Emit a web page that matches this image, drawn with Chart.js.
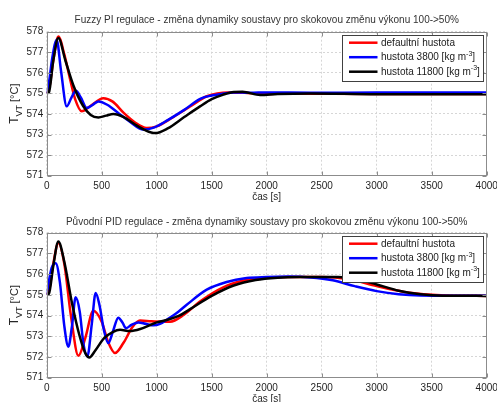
<!DOCTYPE html>
<html>
<head>
<meta charset="utf-8">
<script src="https://cdn.jsdelivr.net/npm/chart.js@4/dist/chart.umd.min.js"></script>
<style>
  html, body { margin: 0; padding: 0; background: #fff; }
  #wrap { position: relative; width: 497px; height: 402px; overflow: hidden; }
  .panel { position: absolute; left: 0; width: 497px; }
</style>
</head>
<body>
<div id="wrap">
  <div class="panel" style="top:0;height:206px"><canvas id="fuzzy" width="497" height="206"></canvas></div>
  <div class="panel" style="top:206px;height:196px"><canvas id="pid" width="497" height="196"></canvas></div>
</div>
<script>
// Axis ticks
const xTicks = [0, 500, 1000, 1500, 2000, 2500, 3000, 3500, 4000];
const yTicks = [571, 572, 573, 574, 575, 576, 577, 578];

// Series names
const seriesNames = ['defaultní hustota', 'hustota 3800 [kg m', 'hustota 11800 [kg m'];

// Fuzzy PI regulace: time [s] and T_VT [°C]
const fuzzyDefaultT = [0, 25, 60, 106, 160, 212, 260, 318, 400, 515, 600, 700, 800, 909, 1000, 1150, 1300, 1450, 1550, 1650, 1800, 1950, 2200, 2600, 3000, 4000];
const fuzzyDefaultV = [575, 575.3, 576.6, 577.77, 576.9, 575.7, 574.7, 574.13, 574.4, 574.77, 574.6, 574.05, 573.6, 573.32, 573.4, 573.85, 574.35, 574.85, 575.0, 575.05, 575.03, 574.97, 575.0, 574.98, 574.97, 574.97];

const fuzzy3800T = [0, 20, 50, 91, 130, 182, 225, 266, 310, 364, 420, 470, 550, 650, 750, 879, 980, 1100, 1250, 1400, 1500, 1600, 1700, 1850, 2000, 2400, 3000, 4000];
const fuzzy3800V = [575, 575.5, 576.7, 577.6, 576.1, 574.37, 574.8, 575.13, 574.8, 574.29, 574.45, 574.61, 574.45, 574.05, 573.65, 573.24, 573.35, 573.7, 574.2, 574.75, 574.9, 574.98, 575.05, 575.03, 575.05, 575.03, 575.04, 575.04];

const fuzzy11800T = [0, 20, 60, 106, 170, 242, 330, 400, 470, 540, 606, 700, 800, 900, 985, 1100, 1250, 1394, 1500, 1600, 1700, 1780, 1940, 2100, 2400, 3000, 4000];
const fuzzy11800V = [575, 575.05, 576.6, 577.69, 576.6, 575.4, 574.4, 573.95, 573.83, 573.92, 574.0, 573.85, 573.5, 573.2, 573.07, 573.3, 573.85, 574.37, 574.72, 574.93, 575.07, 575.08, 574.92, 574.97, 575.0, 574.96, 574.96];

// Původní PID regulace: time [s] and T_VT [°C]
const pidDefaultT = [0, 25, 60, 106, 160, 220, 288, 350, 424, 500, 560, 621, 700, 780, 848, 950, 1050, 1121, 1250, 1400, 1600, 1800, 2000, 2200, 2500, 2750, 3000, 3250, 3500, 3700, 4000];
const pidDefaultV = [575, 575.3, 576.5, 577.5, 576.5, 574.0, 572.06, 572.9, 574.23, 573.7, 572.7, 572.19, 572.7, 573.45, 573.76, 573.72, 573.7, 573.7, 574.05, 574.7, 575.35, 575.7, 575.83, 575.86, 575.86, 575.75, 575.42, 575.14, 575.0, 574.96, 574.95];

const pid3800T = [0, 15, 45, 82, 120, 160, 197, 230, 263, 300, 335, 370, 410, 445, 480, 520, 560, 600, 651, 690, 721, 770, 833, 900, 970, 1030, 1091, 1200, 1273, 1455, 1636, 1818, 2000, 2200, 2400, 2600, 2800, 3000, 3200, 3400, 3700, 4000];
const pid3800V = [575, 575.5, 576.3, 576.53, 575.6, 573.5, 572.5, 573.5, 574.88, 574.2, 572.6, 572.03, 573.6, 575.09, 574.5, 573.3, 572.67, 573.2, 573.9, 573.65, 573.39, 573.55, 573.67, 573.6, 573.53, 573.6, 573.8, 574.2, 574.52, 575.25, 575.62, 575.81, 575.86, 575.88, 575.84, 575.7, 575.42, 575.18, 575.03, 574.97, 574.96, 574.96];

const pid11800T = [0, 20, 60, 106, 160, 230, 300, 350, 388, 440, 520, 600, 667, 755, 850, 1000, 1100, 1200, 1300, 1500, 1700, 1900, 2100, 2300, 2650, 2800, 3000, 3200, 3400, 3600, 4000];
const pid11800V = [575, 575.05, 576.4, 577.58, 576.6, 574.6, 573.0, 572.2, 571.98, 572.3, 572.9, 573.2, 573.31, 573.25, 573.35, 573.67, 573.8, 573.98, 574.3, 574.95, 575.45, 575.72, 575.83, 575.86, 575.86, 575.78, 575.5, 575.2, 575.03, 574.96, 574.95];

const colors = ['#ff0000', '#0000ff', '#000000'];
const FONT = "'Liberation Sans', Arial, sans-serif";

// Frame, inward tick marks, titles, axis labels and legend in MATLAB style
const matlabDecor = {
  id: 'matlabDecor',
  afterDraw(chart, args, opts) {
    const ctx = chart.ctx;
    const a = chart.chartArea;
    const xs = chart.scales.x, ys = chart.scales.y;
    const L = Math.round(a.left) + 0.5, R = Math.round(a.right) - 0.5;
    const T = Math.round(a.top) + 0.5, B = Math.round(a.bottom) - 0.5;
    ctx.save();
    // frame
    ctx.strokeStyle = '#8c8c8c';
    ctx.lineWidth = 1;
    ctx.strokeRect(L, T, R - L, B - T);
    // inward ticks
    ctx.beginPath();
    xTicks.forEach(v => {
      const px = Math.round(xs.getPixelForValue(v)) + 0.5;
      ctx.moveTo(px, B); ctx.lineTo(px, B - 4);
      ctx.moveTo(px, T); ctx.lineTo(px, T + 4);
    });
    yTicks.forEach(v => {
      const py = Math.round(ys.getPixelForValue(v)) + 0.5;
      ctx.moveTo(L, py); ctx.lineTo(L + 4, py);
      ctx.moveTo(R, py); ctx.lineTo(R - 4, py);
    });
    ctx.stroke();

    const cx = (a.left + a.right) / 2;
    // title
    ctx.fillStyle = '#333';
    ctx.font = '10px ' + FONT;
    ctx.textAlign = 'center';
    ctx.textBaseline = 'middle';
    ctx.fillText(opts.title, cx, a.top - opts.titleGap);
    // x-axis label
    ctx.fillStyle = '#262626';
    ctx.fillText('čas [s]', cx, a.bottom + 21.5);

    // y-axis label T_VT [°C]
    const cy = (a.top + a.bottom) / 2;
    ctx.translate(14, cy);
    ctx.rotate(-Math.PI / 2);
    ctx.textAlign = 'left';
    ctx.textBaseline = 'alphabetic';
    ctx.font = '12px ' + FONT;
    const wT = ctx.measureText('T').width;
    ctx.font = '9px ' + FONT;
    const wVT = ctx.measureText('VT').width;
    ctx.font = '11px ' + FONT;
    const wU = ctx.measureText(' [°C]').width;
    let x0 = -(wT + wVT + wU) / 2;
    ctx.font = '12px ' + FONT;
    ctx.fillText('T', x0, 4);
    x0 += wT;
    ctx.font = '9px ' + FONT;
    ctx.fillText('VT', x0, 7.5);
    x0 += wVT;
    ctx.font = '11px ' + FONT;
    ctx.fillText(' [°C]', x0, 4);
    ctx.setTransform(1, 0, 0, 1, 0, 0);

    // legend
    const bx = Math.round(a.right - 145) + 0.5, by = Math.round(a.top + 3.6) + 0.5;
    const bw = 141, bh = 46;
    ctx.fillStyle = '#fff';
    ctx.fillRect(bx, by, bw, bh);
    ctx.strokeStyle = '#404040';
    ctx.lineWidth = 1;
    ctx.strokeRect(bx, by, bw, bh);
    chart.data.datasets.forEach((ds, i) => {
      const ly = by + 7.2 + i * 14.5;
      ctx.strokeStyle = ds.borderColor;
      ctx.lineWidth = 2.5;
      ctx.beginPath();
      ctx.moveTo(bx + 6.5, ly);
      ctx.lineTo(bx + 35, ly);
      ctx.stroke();
      ctx.fillStyle = '#1a1a1a';
      ctx.textBaseline = 'middle';
      ctx.textAlign = 'left';
      ctx.font = '10px ' + FONT;
      let tx = bx + 38.5;
      ctx.fillText(ds.label, tx, ly + 0.5);
      if (i > 0) {
        tx += ctx.measureText(ds.label).width;
        ctx.font = '7px ' + FONT;
        ctx.fillText('-3', tx, ly - 3.5);
        tx += ctx.measureText('-3').width;
        ctx.font = '10px ' + FONT;
        ctx.fillText(']', tx, ly + 0.5);
      }
    });
    ctx.restore();
  }
};

function toPoints(t, v) { return t.map((x, i) => ({ x: x, y: v[i] })); }

function makeChart(id, title, series, topPad, xAxisHeight, titleGap) {
  return new Chart(document.getElementById(id), {
    type: 'line',
    data: {
      datasets: series.map((s, i) => ({
        label: seriesNames[i],
        data: toPoints(s.t, s.v),
        borderColor: colors[i],
        borderWidth: 2.5,
        pointRadius: 0,
        fill: false,
        cubicInterpolationMode: 'monotone',
        order: 2 - i
      }))
    },
    options: {
      responsive: false,
      animation: false,
      events: [],
      layout: { padding: { top: topPad, right: 10.3, left: 0, bottom: 0 } },
      plugins: {
        legend: { display: false },
        tooltip: { enabled: false },
        title: { display: false },
        matlabDecor: { title: title, titleGap: titleGap }
      },
      scales: {
        x: {
          type: 'linear', min: 0, max: 4000,
          afterBuildTicks: s => { s.ticks = xTicks.map(v => ({ value: v })); },
          afterFit: s => { s.height = xAxisHeight; s.paddingLeft = 0; s.paddingRight = 0; },
          grid: { color: '#d6d6d6', drawTicks: false },
          border: { display: false, dash: [2, 2] },
          ticks: { padding: 5, maxRotation: 0, autoSkip: false, color: '#1f1f1f',
                   font: { family: FONT, size: 10 }, callback: v => String(v) }
        },
        y: {
          type: 'linear', min: 571, max: 578,
          afterBuildTicks: s => { s.ticks = yTicks.map(v => ({ value: v })); },
          afterFit: s => { s.width = 46.7; s.paddingTop = 0; s.paddingBottom = 0; },
          grid: { color: '#d6d6d6', drawTicks: false },
          border: { display: false, dash: [2, 2] },
          ticks: { padding: 3.5, autoSkip: false, color: '#1f1f1f',
                   font: { family: FONT, size: 10 }, callback: v => String(v) }
        }
      }
    },
    plugins: [matlabDecor]
  });
}

makeChart('fuzzy', 'Fuzzy PI regulace - změna dynamiky soustavy pro skokovou změnu výkonu 100->50%', [
  { t: fuzzyDefaultT, v: fuzzyDefaultV },
  { t: fuzzy3800T, v: fuzzy3800V },
  { t: fuzzy11800T, v: fuzzy11800V }
], 31.7, 30.3, 11);

makeChart('pid', 'Původní PID regulace - změna dynamiky soustavy pro skokovou změnu výkonu 100->50%', [
  { t: pidDefaultT, v: pidDefaultV },
  { t: pid3800T, v: pid3800V },
  { t: pid11800T, v: pid11800V }
], 26.7, 24.3, 10);
</script>
</body>
</html>
